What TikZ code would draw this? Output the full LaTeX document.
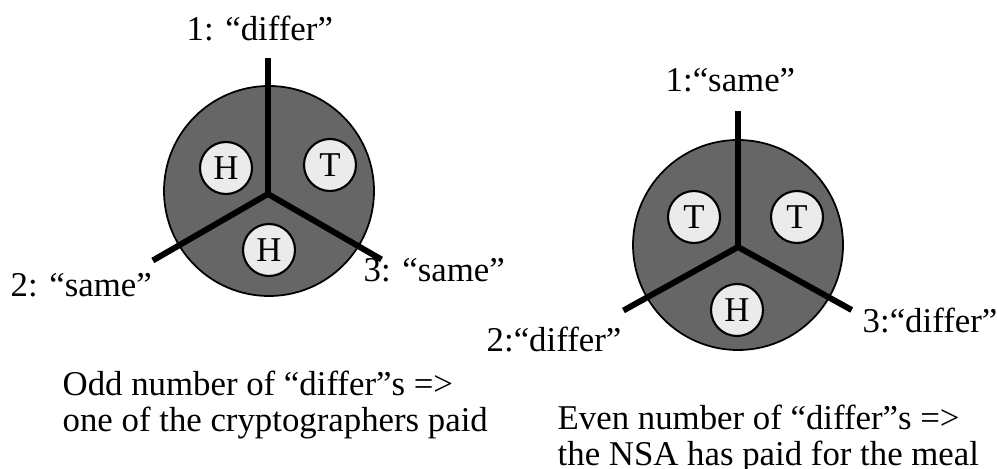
\documentclass[tikz,border=0pt]{standalone}
\usepackage{fontspec}
\setmainfont{Liberation Serif}
\definecolor{discgray}{HTML}{666666}
\definecolor{coingray}{HTML}{EBEBEB}
\tikzset{
  disc/.style={fill=discgray, draw=black, line width=0.5pt},
  coin/.style={circle, fill=coingray, draw=black, line width=0.6pt, minimum size=0.52cm, inner sep=0pt},
  spoke/.style={line width=1.7pt},
  lbl/.style={anchor=base west, inner sep=0pt}
}
\begin{document}
\begin{tikzpicture}[font=\fontsize{9.9}{10.3}\selectfont]
    \useasboundingbox (0,0) rectangle (9.97,4.68);
    % left: odd case
    \coordinate (O1) at (2.69,2.77);
    \coordinate (J1) at (2.68,2.74);
    \draw[disc] (O1) circle (1.05);
    \draw[spoke] (J1) -- ++(90:1.36) coordinate (A1);
    \draw[spoke] (J1) -- ++(210:1.33) coordinate (B1);
    \draw[spoke] (J1) -- ++(330:1.31) coordinate (C1);
    \node[coin] (h1) at (2.26,3.00) {H};
    \node[coin] (t1) at (3.30,3.03) {T};
    \node[coin] (h2) at (2.69,2.18) {H};
    \node[lbl] at (1.86,4.27) {1: “differ”};
    \node[lbl] at (0.10,1.71) {2: “same”};
    \node[lbl] at (3.63,1.86) {3: “same”};
    \node[anchor=north west, inner sep=0pt, align=left] at (0.62,0.98)
        {Odd number of “differ”s =>\\one of the cryptographers paid};
    % right: even case
    \coordinate (O2) at (7.38,2.23);
    \coordinate (J2) at (7.38,2.21);
    \draw[disc] (O2) circle (1.05);
    \draw[spoke] (J2) -- ++(90:1.36) coordinate (A2);
    \draw[spoke] (J2) -- ++(209:1.31) coordinate (B2);
    \draw[spoke] (J2) -- ++(331:1.30) coordinate (C2);
    \node[coin] (t2) at (6.94,2.51) {T};
    \node[coin] (t3) at (7.97,2.51) {T};
    \node[coin] (h3) at (7.37,1.58) {H};
    \node[lbl] at (6.65,3.76) {1:“same”};
    \node[lbl, anchor=base east] at (6.22,1.16) {2:“differ”};
    \node[lbl] at (8.62,1.35) {3:“differ”};
    \node[anchor=north west, inner sep=0pt, align=left] at (5.57,0.64)
        {Even number of “differ”s =>\\the NSA has paid for the meal};
\end{tikzpicture}
\end{document}
